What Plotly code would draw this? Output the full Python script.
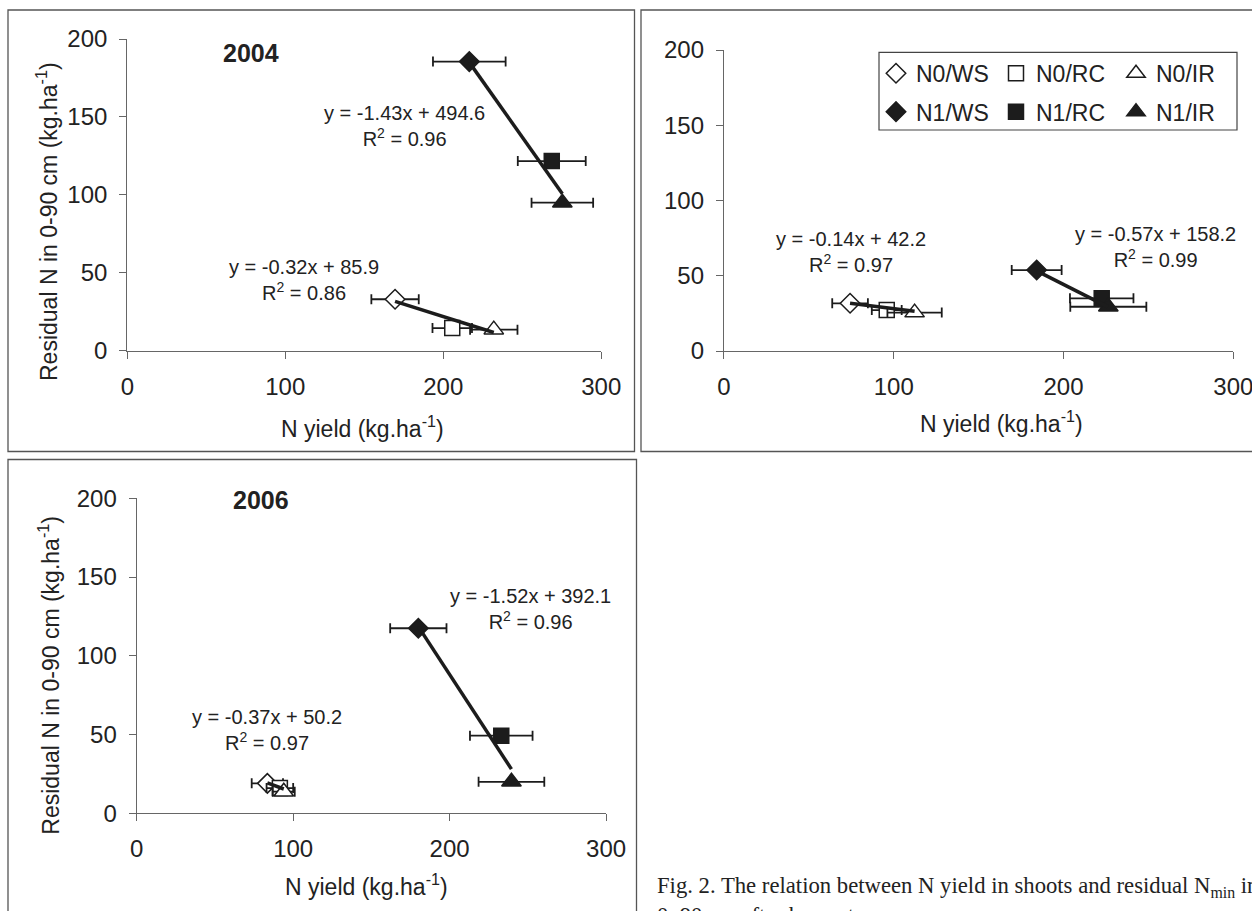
import plotly.graph_objects as go

W, H = 1252, 911

# ---------------- data ----------------
treatments = ["N0/WS", "N0/RC", "N0/IR", "N1/WS", "N1/RC", "N1/IR"]
years = ["2004", "2005", "2006"]

n_yield_2004 = [169.5, 205.7, 232.0, 216.5, 268.7, 275.4]
resid_2004 = [33.0, 14.5, 13.5, 185.5, 121.7, 95.0]
err_2004 = [15.0, 12.5, 15.0, 23.0, 21.5, 19.5]

n_yield_2005 = [74.3, 95.9, 112.3, 184.2, 222.5, 226.4]
resid_2005 = [31.7, 27.2, 25.5, 53.8, 35.0, 29.4]
err_2005 = [10.5, 8.8, 16.0, 14.7, 18.7, 22.4]

n_yield_2006 = [83.5, 91.5, 94.0, 180.0, 233.0, 239.5]
resid_2006 = [19.0, 16.0, 13.7, 117.5, 49.3, 20.0]
err_2006 = [10.0, 8.5, 7.0, 18.0, 20.0, 21.0]

slope_2004 = [-0.32, -1.43]
intercept_2004 = [85.9, 494.6]
r2_2004 = [0.86, 0.96]
slope_2005 = [-0.14, -0.57]
intercept_2005 = [42.2, 158.2]
r2_2005 = [0.97, 0.99]
slope_2006 = [-0.37, -1.52]
intercept_2006 = [50.2, 392.1]
r2_2006 = [0.97, 0.96]

x_ticks = [0, 100, 200, 300]
y_ticks = [0, 50, 100, 150, 200]

x_title = "N yield (kg.ha<sup>-1</sup>)"
y_title = "Residual N in 0-90 cm (kg.ha<sup>-1</sup>)"
caption = ("Fig. 2. The relation between N yield in shoots and residual N<sub>min</sub> in"
           "<br>0\u201390 cm after harvest.")

# ---------------- styling / layout ----------------
DARK = "#1c1c1c"
AX = "#666666"
FONT = "Arial, Liberation Sans, sans-serif"

# plot areas in pixels: (x_left, x_right), (y_top, y_bottom)
areas = [((127.3, 601.2), (39.0, 350.7)),
         ((723.9, 1233.3), (50.0, 351.0)),
         ((136.7, 606.1), (498.3, 813.3))]
borders = [(8, 10, 634.5, 451.5), (641, 10, 1262, 451.5), (8, 459.5, 636.5, 925)]

year_pos = [(78.3, 190.9), (43.6, 201.8), (79.6, 198.9)]
eq_pos = [[(111.9, 45.5), (175.2, 144.3)],
          [(74.7, 65.8), (254.0, 69.1)],
          [(83.5, 52.9), (251.7, 130.0)]]
xtitle_px = [(362, 427), (1001, 421.7), (366, 885)]
ytitle_px = [(47, 222), None, (49, 675.7)]

symbols = ["diamond", "square", "triangle-up", "diamond", "square", "triangle-up"]
sizes = [15, 15, 17, 15, 15, 17]
fills = ["white", "white", "white", DARK, DARK, DARK]
legend_ids = ["legend", "legend", "legend", "legend2", "legend2", "legend2"]


def px_x(v):
    return v / W


def px_y(v):
    return 1 - v / H


datasets = [
    (n_yield_2004, resid_2004, err_2004, slope_2004, intercept_2004, r2_2004),
    (n_yield_2005, resid_2005, err_2005, slope_2005, intercept_2005, r2_2005),
    (n_yield_2006, resid_2006, err_2006, slope_2006, intercept_2006, r2_2006),
]

fig = go.Figure()
annotations = []
shapes = []
layout_axes = {}

for p, (xs, ys, es, slopes, inters, r2s) in enumerate(datasets):
    sfx = "" if p == 0 else str(p + 1)
    xa, ya = "x" + sfx, "y" + sfx
    (xl, xr), (yt, yb) = areas[p]
    layout_axes["xaxis" + sfx] = dict(
        domain=[px_x(xl), px_x(xr)], range=[0, 300], anchor=ya,
        tickvals=x_ticks, ticks="outside", ticklen=7, tickcolor=AX, tickwidth=1,
        showline=True, linecolor=AX, linewidth=1.2, showgrid=False, zeroline=False,
        tickfont=dict(size=24, color="#222", family=FONT), ticklabelstandoff=7,
        ticklabeloverflow="allow",
    )
    layout_axes["yaxis" + sfx] = dict(
        domain=[px_y(yb), px_y(yt)], range=[0, 200], anchor=xa,
        tickvals=y_ticks, ticks="outside", ticklen=7, tickcolor=AX, tickwidth=1,
        showline=True, linecolor=AX, linewidth=1.2, showgrid=False, zeroline=False,
        tickfont=dict(size=24, color="#222", family=FONT), ticklabelstandoff=7,
        ticklabeloverflow="allow",
    )

    # points with error bars
    for i, name in enumerate(treatments):
        fig.add_trace(go.Scatter(
            x=[xs[i]], y=[ys[i]], xaxis=xa, yaxis=ya, mode="markers",
            name=name, legendgroup=name, showlegend=(p == 1), legend=legend_ids[i],
            error_x=dict(type="data", array=[es[i]], color=DARK, thickness=1.8, width=5),
            marker=dict(symbol=symbols[i], size=sizes[i], color=fills[i],
                        line=dict(color=DARK, width=1.5)),
            cliponaxis=False,
        ))

    # regression lines (N0 group, N1 group)
    for g, idx in enumerate([(0, 1, 2), (3, 4, 5)]):
        gx = [xs[k] for k in idx]
        x0, x1 = min(gx), max(gx)
        fig.add_trace(go.Scatter(
            x=[x0, x1], y=[slopes[g] * x0 + inters[g], slopes[g] * x1 + inters[g]],
            xaxis=xa, yaxis=ya, mode="lines", showlegend=False,
            line=dict(color=DARK, width=3.5), cliponaxis=False,
        ))
        ex, ey = eq_pos[p][g]
        annotations.append(dict(
            x=ex, y=ey, xref=xa, yref=ya, showarrow=False,
            xanchor="center", yanchor="middle",
            text=f"y = {slopes[g]:.2f}x + {inters[g]:.1f}<br>R<sup>2</sup> = {r2s[g]:.2f}",
            font=dict(size=20, color="#222", family=FONT), align="center",
        ))

    # year label
    annotations.append(dict(
        x=year_pos[p][0], y=year_pos[p][1], xref=xa, yref=ya, showarrow=False,
        xanchor="center", yanchor="middle",
        text=f"<b>{years[p]}</b>", font=dict(size=25, color="#222", family=FONT),
    ))

    # axis titles
    tx, ty = xtitle_px[p]
    annotations.append(dict(
        x=px_x(tx), y=px_y(ty), xref="paper", yref="paper", showarrow=False,
        xanchor="center", yanchor="middle",
        text=x_title, font=dict(size=23, color="#222", family=FONT),
    ))
    if ytitle_px[p] is not None:
        tx, ty = ytitle_px[p]
        annotations.append(dict(
            x=px_x(tx), y=px_y(ty), xref="paper", yref="paper", showarrow=False,
            xanchor="center", yanchor="middle",
            text=y_title, textangle=-90, font=dict(size=23, color="#222", family=FONT),
        ))

    bx0, by0, bx1, by1 = borders[p]
    shapes.append(dict(type="rect", xref="paper", yref="paper",
                       x0=px_x(bx0), x1=px_x(bx1), y0=px_y(by1), y1=px_y(by0),
                       line=dict(color="#555", width=1.3), layer="below"))

# legend frame
shapes.append(dict(type="rect", xref="paper", yref="paper",
                   x0=px_x(879), x1=px_x(1237), y0=px_y(130), y1=px_y(52.3),
                   line=dict(color="#444", width=1.2), fillcolor="white", layer="below"))

annotations.append(dict(
    x=px_x(655), y=px_y(871), xref="paper", yref="paper", showarrow=False,
    xanchor="left", yanchor="top", align="left", text=caption,
    font=dict(size=22.7, color="#222", family="Times New Roman, Liberation Serif, serif"),
))

leg_common = dict(orientation="h", xanchor="left", yanchor="middle",
                  borderwidth=0, bgcolor="rgba(0,0,0,0)",
                  font=dict(size=23, family=FONT, color="#222"),
                  entrywidth=75, entrywidthmode="pixels", itemwidth=30)

fig.update_layout(
    width=W, height=H, margin=dict(l=0, r=0, t=0, b=0, autoexpand=False),
    paper_bgcolor="white", plot_bgcolor="white",
    font=dict(family=FONT, color="#222"),
    showlegend=True,
    legend=dict(x=px_x(876), y=px_y(73.3), **leg_common),
    legend2=dict(x=px_x(876), y=px_y(111.7), **leg_common),
    annotations=annotations, shapes=shapes,
    **layout_axes,
)

fig.write_html("out.html",
               config={"displayModeBar": False},
               post_script="document.body.style.margin='0px';"
                           "document.body.style.overflow='hidden';")
